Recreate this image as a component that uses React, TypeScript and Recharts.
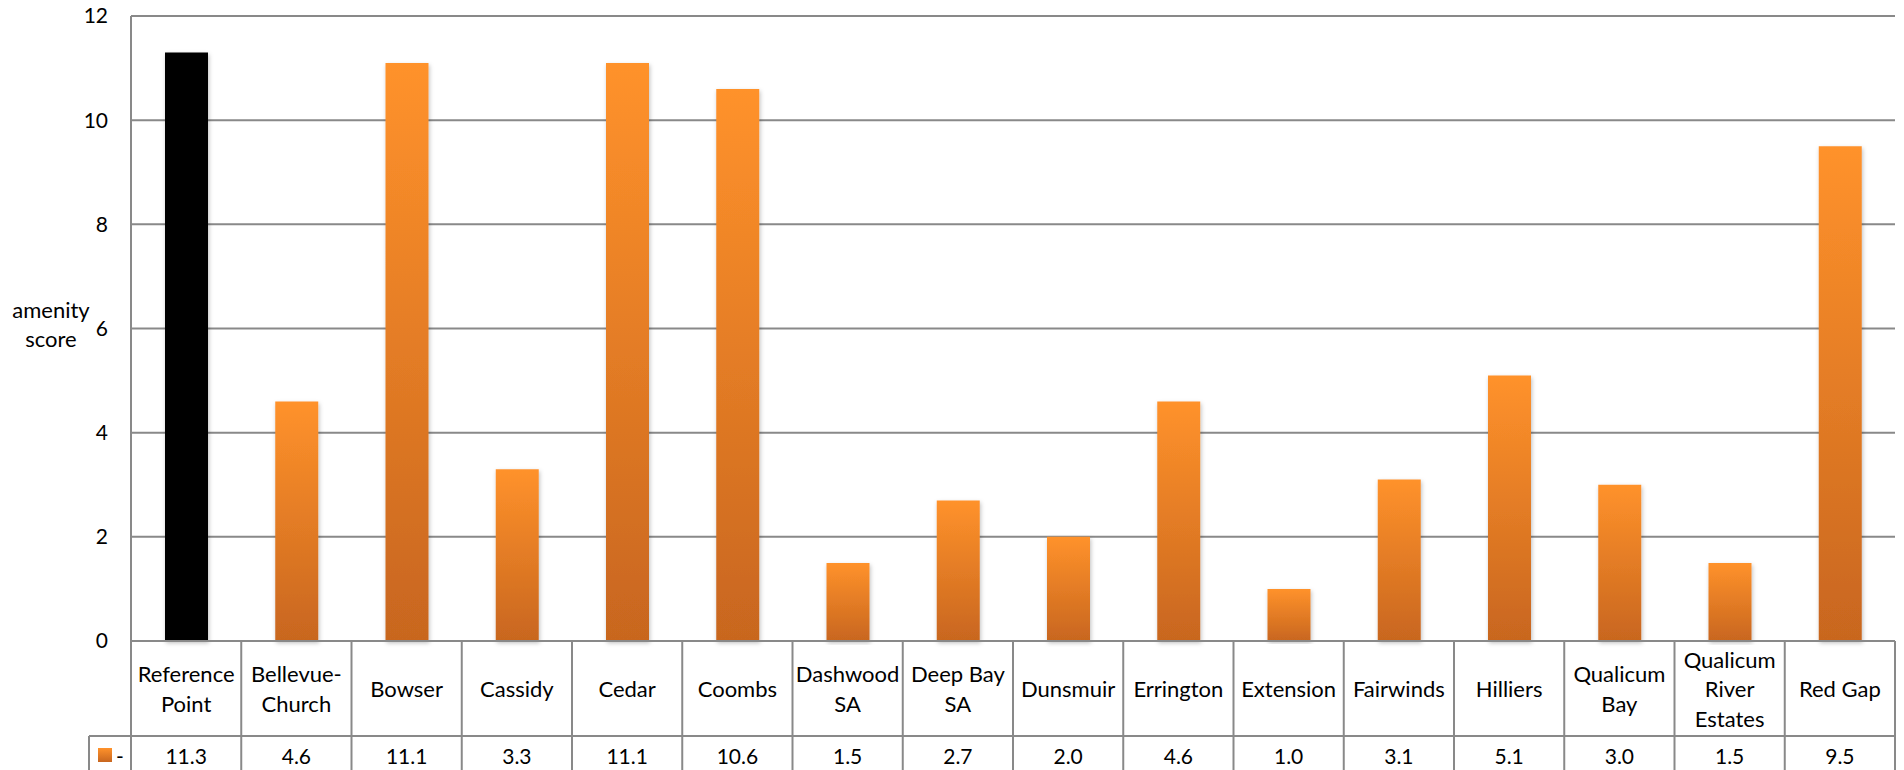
import React from "react";
import { BarChart, Bar, XAxis, YAxis, CartesianGrid, Cell } from "recharts";

const categories = [
  "Reference\nPoint",
  "Bellevue-\nChurch",
  "Bowser",
  "Cassidy",
  "Cedar",
  "Coombs",
  "Dashwood\nSA",
  "Deep Bay\nSA",
  "Dunsmuir",
  "Errington",
  "Extension",
  "Fairwinds",
  "Hilliers",
  "Qualicum\nBay",
  "Qualicum\nRiver\nEstates",
  "Red Gap",
];
const scores = [11.3, 4.6, 11.1, 3.3, 11.1, 10.6, 1.5, 2.7, 2.0, 4.6, 1.0, 3.1, 5.1, 3.0, 1.5, 9.5];
const yTicks = [0, 2, 4, 6, 8, 10, 12];

const data = categories.map((name, i) => ({ name, score: scores[i] }));

const W = 1904;
const H = 770;
const AXIS_W = 131;
const RIGHT = 9;
const TABLE_H = 129;
const LABEL_ROW = 95;
const BAND = (W - AXIS_W - RIGHT) / categories.length;
const LINE = "#898989";
const FONT = "Lato, 'Open Sans', sans-serif";

const TableTick = ({ x, y, payload, index }: any) => {
  const lines = String(payload.value).split("\n");
  const left = x - BAND / 2;
  const right = x + BAND / 2;
  const mid = y + LABEL_ROW / 2;
  const start = mid - ((lines.length - 1) * 29.5) / 2;
  const last = index === categories.length - 1;
  return (
    <g>
      <line x1={left} y1={y} x2={left} y2={y + TABLE_H} stroke={LINE} strokeWidth={2} />
      {last && <line x1={right} y1={y} x2={right} y2={y + TABLE_H} stroke={LINE} strokeWidth={2} />}
      <line x1={left} y1={y + LABEL_ROW} x2={right} y2={y + LABEL_ROW} stroke={LINE} strokeWidth={2} />
      {lines.map((l, i) => (
        <text
          key={i}
          x={x}
          y={start + i * 29.5}
          textAnchor="middle"
          dominantBaseline="central"
          fontFamily={FONT}
          fontSize={22}
          fill="#000"
        >
          {l}
        </text>
      ))}
      <text
        x={x}
        y={y + 114}
        textAnchor="middle"
        dominantBaseline="central"
        fontFamily={FONT}
        fontSize={21}
        fill="#000"
      >
        {scores[index].toFixed(1)}
      </text>
      {index === 0 && (
        <g>
          <line x1={left - 42} y1={y + LABEL_ROW} x2={left} y2={y + LABEL_ROW} stroke={LINE} strokeWidth={2} />
          <line x1={left - 42} y1={y + LABEL_ROW} x2={left - 42} y2={y + TABLE_H} stroke={LINE} strokeWidth={2} />
          <rect x={left - 33} y={y + 107} width={14} height={14} fill="url(#barGrad)" />
          <text
            x={left - 11}
            y={y + 114}
            textAnchor="middle"
            dominantBaseline="central"
            fontFamily={FONT}
            fontSize={21}
            fill="#000"
          >
            -
          </text>
        </g>
      )}
    </g>
  );
};

const AxisTitle = ({ viewBox }: any) => {
  const cx = 51;
  const cy = viewBox ? viewBox.y + viewBox.height / 2 : 328;
  return (
    <text textAnchor="middle" fontFamily={FONT} fontSize={22} fill="#000">
      <tspan x={cx} y={cy - 19.5} dominantBaseline="central">amenity</tspan>
      <tspan x={cx} y={cy + 9.5} dominantBaseline="central">score</tspan>
    </text>
  );
};

export default function App() {
  return (
    <div style={{ position: "absolute", left: 0, top: 0, width: W, height: H, background: "#fff" }}>
      <BarChart width={W} height={H} data={data} margin={{ top: 16, right: RIGHT, left: 0, bottom: 0 }}>
        <defs>
          <linearGradient id="barGrad" x1="0" y1="0" x2="0" y2="1">
            <stop offset="0%" stopColor="#FF922B" />
            <stop offset="100%" stopColor="#C8661F" />
          </linearGradient>
          <filter id="shadow" x="-20%" y="-5%" width="140%" height="110%">
            <feDropShadow dx="1" dy="2" stdDeviation="2" floodColor="#000" floodOpacity="0.25" />
          </filter>
        </defs>
        <CartesianGrid vertical={false} stroke={LINE} strokeWidth={2} />
        <XAxis
          dataKey="name"
          height={TABLE_H}
          interval={0}
          axisLine={{ stroke: LINE, strokeWidth: 2 }}
          tickLine={false}
          tickSize={0}
          tickMargin={0}
          tick={<TableTick />}
        />
        <YAxis
          width={AXIS_W}
          domain={[0, 12]}
          ticks={yTicks}
          interval={0}
          axisLine={{ stroke: LINE, strokeWidth: 2 }}
          tickLine={false}
          tickSize={0}
          tickMargin={23}
          tick={{ fontFamily: FONT, fontSize: 21, fill: "#000" }}
          label={<AxisTitle />}
        />
        <Bar dataKey="score" barSize={43} isAnimationActive={false}>
          {data.map((d, i) => (
            <Cell key={d.name} fill={i === 0 ? "#000" : "url(#barGrad)"} filter="url(#shadow)" />
          ))}
        </Bar>
      </BarChart>
    </div>
  );
}
